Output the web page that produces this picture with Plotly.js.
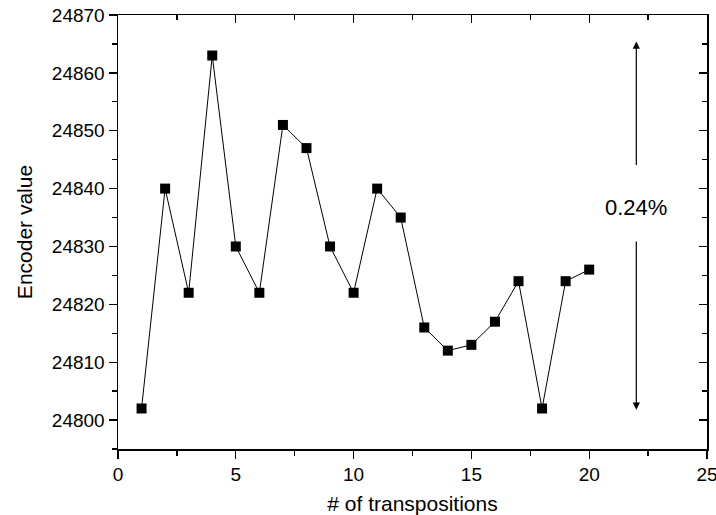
<!DOCTYPE html>
<html>
<head>
<meta charset="utf-8">
<script src="https://cdn.plot.ly/plotly-3.0.1.min.js"></script>
<style>html,body{margin:0;padding:0;background:#fff;}#chart{width:716px;height:515px;}</style>
</head>
<body>
<div id="chart"></div>
<script>
const transpositions = [1,2,3,4,5,6,7,8,9,10,11,12,13,14,15,16,17,18,19,20];
const encoderValues = [24802,24840,24822,24863,24830,24822,24851,24847,24830,24822,24840,24835,24816,24812,24813,24817,24824,24802,24824,24826];
const xTickValues = [0,5,10,15,20,25];
const xTickLabels = ['0','5','10','15','20','25'];
const rangeLabel = "0.24%";
const rangeX = 22;
const rangeTop = 24865.4;
const rangeBottom = 24801.8;
const upperArrowStart = 24843.8;
const lowerArrowStart = 24831.1;
const labelY = 24836.8;

const font = "Arial, 'Liberation Sans', sans-serif";
const xRange = [0, 25.0005];
const yRange = [24795, 24870.001];

const traces = [
  {
    x: transpositions, y: encoderValues,
    type: 'scatter', mode: 'lines+markers',
    line: {color: '#000', width: 1},
    marker: {symbol: 'square', size: 10, color: '#000'},
    hoverinfo: 'skip', showlegend: false
  },
  {x: [], y: [], xaxis: 'x2', yaxis: 'y2', type: 'scatter', showlegend: false, hoverinfo: 'skip'}
];

const axisCommon = {
  showgrid: false, zeroline: false, showline: true, linecolor: '#000', linewidth: 1.5,
  tickcolor: '#000', tickwidth: 1.3, ticklen: 8,
  tickfont: {family: font, size: 19, color: '#000'}
};

const layout = {
  width: 716, height: 515,
  margin: {l: 118, r: 9, t: 15, b: 66},
  paper_bgcolor: '#fff', plot_bgcolor: '#fff',
  font: {family: font, color: '#000'},
  xaxis: Object.assign({}, axisCommon, {
    range: xRange, tickmode: 'array', tickvals: xTickValues, ticktext: xTickLabels, ticks: 'outside',
    ticklabeloverflow: 'allow',
    minor: {dtick: 2.5, tick0: 0, ticks: 'outside', ticklen: 5, tickcolor: '#000', tickwidth: 1.3},
    title: {text: '# of transpositions', font: {family: font, size: 21, color: '#000'}, standoff: 12}
  }),
  yaxis: Object.assign({}, axisCommon, {
    range: yRange, dtick: 10, tick0: 24800, ticks: 'outside', tickformat: 'd',
    minor: {dtick: 5, ticks: 'outside', ticklen: 5, tickcolor: '#000', tickwidth: 1.3},
    title: {text: 'Encoder value', font: {family: font, size: 21, color: '#000'}, standoff: 13}
  }),
  xaxis2: Object.assign({}, axisCommon, {
    overlaying: 'x', side: 'top', anchor: 'y2', range: xRange, dtick: 5, tick0: 0,
    ticks: 'inside', showticklabels: false,
    minor: {dtick: 2.5, ticks: 'inside', ticklen: 5, tickcolor: '#000', tickwidth: 1.3}
  }),
  yaxis2: Object.assign({}, axisCommon, {
    overlaying: 'y', side: 'right', anchor: 'x2', range: yRange, dtick: 10, tick0: 24800,
    ticks: 'inside', showticklabels: false,
    minor: {dtick: 5, ticks: 'inside', ticklen: 5, tickcolor: '#000', tickwidth: 1.3}
  }),
  annotations: [
    {x: rangeX, y: rangeTop, ax: rangeX, ay: upperArrowStart, axref: 'x', ayref: 'y', xref: 'x', yref: 'y',
     text: '', showarrow: true, arrowhead: 2, arrowsize: 1.2, arrowwidth: 1.2, arrowcolor: '#000'},
    {x: rangeX, y: rangeBottom, ax: rangeX, ay: lowerArrowStart, axref: 'x', ayref: 'y', xref: 'x', yref: 'y',
     text: '', showarrow: true, arrowhead: 2, arrowsize: 1.2, arrowwidth: 1.2, arrowcolor: '#000'},
    {x: rangeX, y: labelY, xref: 'x', yref: 'y', text: rangeLabel, showarrow: false,
     font: {family: font, size: 22, color: '#000'}}
  ]
};

Plotly.newPlot('chart', traces, layout, {displayModeBar: false, staticPlot: true});
</script>
</body>
</html>
